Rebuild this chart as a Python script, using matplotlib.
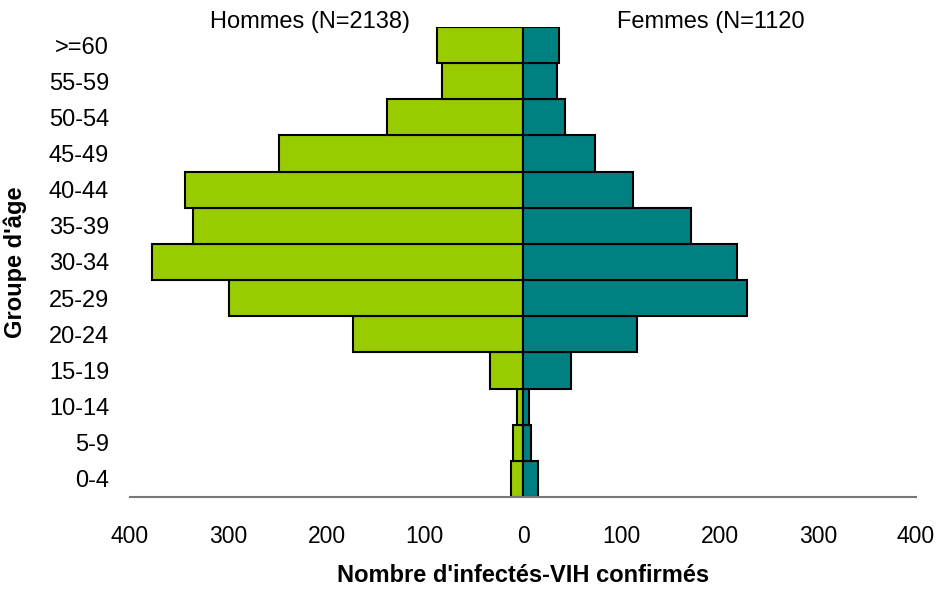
import numpy as np
import matplotlib
matplotlib.use("Agg")
import matplotlib.pyplot as plt

plt.rcParams['font.family'] = ['Liberation Sans', 'DejaVu Sans']

# groupes d'âge, du plus jeune au plus âgé
groupes = ["0-4", "5-9", "10-14", "15-19", "20-24", "25-29", "30-34",
           "35-39", "40-44", "45-49", "50-54", "55-59", ">=60"]
hommes = [12, 10, 6, 34, 173, 299, 378, 336, 344, 248, 138, 82, 88]
femmes = [15, 8, 6, 49, 116, 228, 218, 171, 112, 73, 43, 35, 37]
xticks = [-400, -300, -200, -100, 0, 100, 200, 300, 400]

fig = plt.figure(figsize=(9.4, 5.91), dpi=100)
ax = fig.add_axes([130 / 940, 94 / 591, 786 / 940, 470 / 591])

y = np.arange(len(groupes))
ax.barh(y, -np.array(hommes), height=1.0, color="#99CC00",
        edgecolor="black", linewidth=1.5)
ax.barh(y, femmes, height=1.0, color="#008080",
        edgecolor="black", linewidth=1.5)

ax.set_xlim(-400, 400)
ax.set_ylim(-0.5, len(groupes) - 0.5)
ax.set_xticks(xticks)
ax.set_xticklabels([str(abs(v)) for v in xticks])
ax.set_yticks(y)
ax.set_yticklabels(groupes)
ax.tick_params(axis="x", length=0, pad=20, labelsize=16.5)
ax.tick_params(axis="y", length=0, pad=15, labelsize=17)

for s in ["top", "right", "left"]:
    ax.spines[s].set_visible(False)
ax.spines["bottom"].set_color("#777777")
ax.spines["bottom"].set_linewidth(1.5)

ax.set_xlabel("Nombre d'infectés-VIH confirmés", fontsize=17,
              fontweight="bold", labelpad=12)
ax.set_ylabel("Groupe d'âge", fontsize=17, fontweight="bold", labelpad=16)

fig.text(310 / 940, 1 - 22 / 591, "Hommes (N=2138)", fontsize=17,
         ha="center", va="center")
fig.text(711 / 940, 1 - 22 / 591, "Femmes (N=1120", fontsize=17,
         ha="center", va="center")

fig.savefig("out.png", dpi=100)
